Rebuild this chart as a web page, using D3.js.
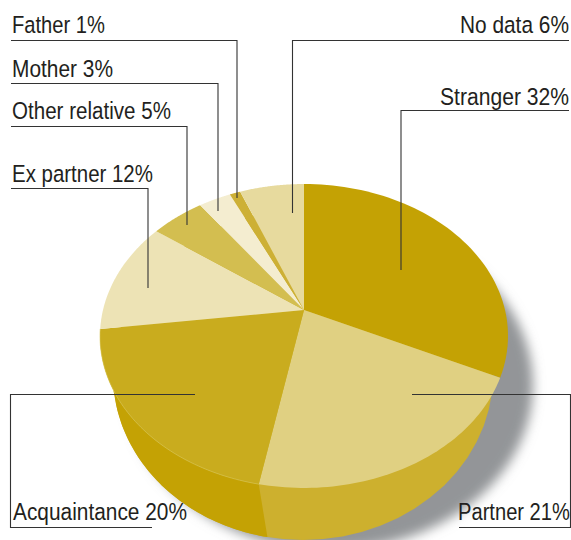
<!DOCTYPE html>
<html><head><meta charset="utf-8">
<script src="https://cdn.jsdelivr.net/npm/d3@7/dist/d3.min.js"></script>
<style>html,body{margin:0;padding:0;background:#fff}svg{display:block}text{font-family:"Liberation Sans",sans-serif;fill:#231f20}</style>
</head><body><svg id="c" width="571" height="540"></svg>
<script>
const categories = ["Stranger","Partner","Acquaintance","Ex partner","Other relative","Mother","Father","No data"];
const values = [32,21,20,12,5,3,1,6];
const topColors = ["#C4A204","#E0D082","#C9AC1E","#EDE3B5","#D3BE50","#F4EDD0","#CDB035","#E7DA9E"];
const partnerSide = "#CDB02E", acquaintanceSide = "#C4A204", shadowColor = "#939598";

// layout of labels and leader lines, separate from the data
const labelLayout = {
  "Father":{x:12,y:33,w:93,path:[[11,40.5],[237,40.5],[237,198]]},
  "Mother":{x:12,y:77,w:101,path:[[11,83.5],[218,83.5],[218,211]]},
  "Other relative":{x:12,y:119,w:159,path:[[11,126.5],[187,126.5],[187,225]]},
  "Ex partner":{x:12,y:182,w:141,path:[[11,188.5],[148,188.5],[148,288]]},
  "No data":{x:460,y:33,w:109,path:[[569,40.5],[292.5,40.5],[292.5,213]]},
  "Stranger":{x:440,y:105,w:129,path:[[569,110.5],[401,110.5],[401,270]]},
  "Acquaintance":{x:13,y:520,w:174,path:[[195,394.5],[10.5,394.5],[10.5,527.5],[152,527.5]]},
  "Partner":{x:458,y:520,w:112,path:[[412,394.5],[570.5,394.5],[570.5,527.5],[459,527.5]]}
};

const svg = d3.select("#c");
const defs = svg.append("defs");
defs.append("filter").attr("id","blur").attr("x","-20%").attr("y","-20%").attr("width","140%").attr("height","140%")
  .append("feGaussianBlur").attr("stdDeviation",6);

const pie = d3.pie().sort(null).value(d=>d);
const arcs = pie(values);

// perspective projection of the pie disc
const apex = [304,310], R = 201, ka = 94.5, kc = -0.171;
const project = t => {
  const u = Math.sin(t), v = -Math.cos(t), w = 1 + kc*v;
  return [apex[0] + R*u/w, (apex[1] + ka*v)/w];
};
// lower rim ellipse
const rim = {cx:303, cy:375, a:190, b:165};
const rimPoint = t => [rim.cx + rim.a*Math.sin(t), rim.cy - rim.b*Math.cos(t)];
const sample = (t0,t1,f) => d3.range(0,61).map(i => f(t0 + (t1-t0)*i/60));
const line = d3.line();

// shadow
svg.append("ellipse").attr("cx",rim.cx+27).attr("cy",rim.cy+10).attr("rx",rim.a+13).attr("ry",rim.b)
  .attr("fill",shadowColor).attr("filter","url(#blur)");

// side wall
svg.append("path").attr("d", line(sample(0,2*Math.PI,rimPoint))+"Z").attr("fill",partnerSide);
const acq = arcs[categories.indexOf("Acquaintance")];
svg.append("path").attr("d", line(sample(acq.startAngle,acq.endAngle,project).concat(sample(acq.endAngle,acq.startAngle,rimPoint)))+"Z")
  .attr("fill",acquaintanceSide);

// top face
svg.selectAll("path.slice").data(arcs).join("path").attr("class","slice")
  .attr("d", d => line([apex].concat(sample(d.startAngle,d.endAngle,project)))+"Z")
  .attr("fill",(d,i)=>topColors[i]);
svg.append("path").attr("d", line(sample(acq.startAngle,acq.endAngle,project))).attr("fill","none")
  .attr("stroke","#d9c75c").attr("stroke-width",0.6);

// leaders
svg.selectAll("path.leader").data(categories).join("path").attr("class","leader")
  .attr("d", c => line(labelLayout[c].path)).attr("fill","none").attr("stroke","#333").attr("stroke-width",1.1);

// labels, condensed horizontally to the reference's widths
svg.selectAll("text.lab").data(categories).join("text").attr("class","lab")
  .attr("font-size",23.5).text((c,i)=>`${c} ${values[i]}%`)
  .attr("transform",function(c){
    const l = labelLayout[c];
    return `translate(${l.x},${l.y}) scale(${l.w/this.getComputedTextLength()},1)`;
  });
</script></body></html>
